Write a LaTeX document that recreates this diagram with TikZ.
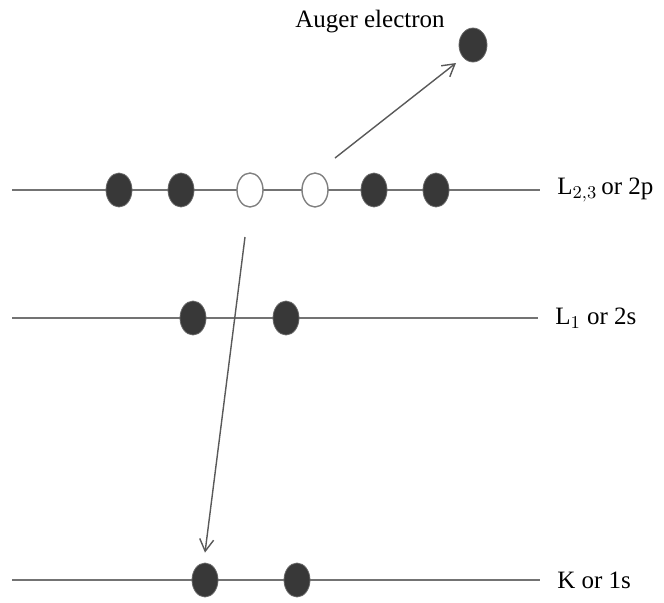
\documentclass[tikz,border=0pt]{standalone}
\usepackage{fontspec}
\setmainfont{Liberation Serif}
\usetikzlibrary{arrows.meta, shapes.geometric}
\begin{document}
\begin{tikzpicture}[x=0.5pt, y=-0.5pt, >={Straight Barb[length=6pt,width=7pt]},
    every node/.style={font=\fontsize{12.5}{15}\selectfont},
    level/.style={draw=black!55, line width=0.7pt},
    full/.style={ellipse, fill=black!78, draw=black!60, minimum width=13pt, minimum height=17pt, inner sep=0pt},
    hole/.style={ellipse, fill=white, draw=black!50, line width=0.7pt, minimum width=13pt, minimum height=17pt, inner sep=0pt},
    jump/.style={->, draw=black!65, line width=0.7pt}]
    \useasboundingbox (0,0) rectangle (664,602);
    % energy levels
    \draw[level] (12,190) -- (540,190) node[right=5pt, anchor=west] (lab2p) {L$_{2,3}$\,or 2p};
    \draw[level] (12,318) -- (538,318) node[right=5pt, anchor=west] (lab2s) {L$_1$ or 2s};
    \draw[level] (12,580) -- (540,580) node[right=5pt, anchor=west] (lab1s) {K or 1s};
    % 2p electrons and holes
    \foreach \x/\nm in {119/p1, 181/p2, 374/p5, 436/p6}{
        \node[full] (\nm) at (\x,190) {};
    }
    \node[hole] (h1) at (250,190) {};
    \node[hole] (h2) at (315,190) {};
    % 2s and 1s electrons
    \node[full] (s1) at (193,318) {};
    \node[full] (s2) at (286,318) {};
    \node[full] (k1) at (205,580) {};
    \node[full] (k2) at (297,580) {};
    % emitted electron
    \node[full, minimum width=14pt] (auger) at (473,45) {};
    \node (lab) at (370,22) {Auger electron};
    % transitions
    \coordinate (startA) at (335,158);
    \coordinate (endA) at (456,63);
    \coordinate (startK) at (245,237);
    \draw[jump] (startA) -- (endA);
    \draw[jump] (startK) -- ([yshift=5pt]k1.north);
\end{tikzpicture}
\end{document}
